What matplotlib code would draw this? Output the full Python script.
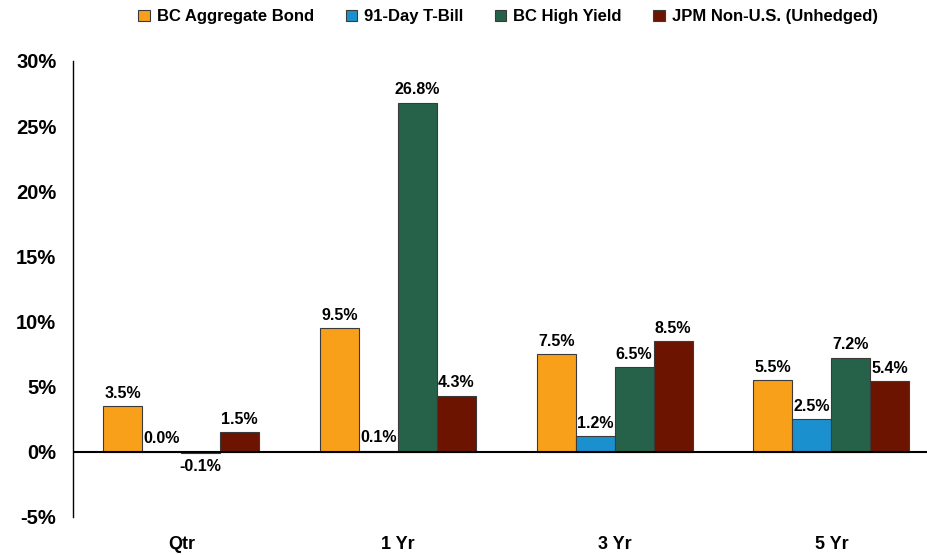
import matplotlib.pyplot as plt
import numpy as np

plt.rcParams['font.family'] = ['Liberation Sans', 'DejaVu Sans']
plt.rcParams['font.weight'] = 'bold'

# Data
periods = ['Qtr', '1 Yr', '3 Yr', '5 Yr']
series = ['BC Aggregate Bond', '91-Day T-Bill', 'BC High Yield', 'JPM Non-U.S. (Unhedged)']
agg_bond = [3.5, 9.5, 7.5, 5.5]
t_bill = [0.0, 0.1, 1.2, 2.5]
high_yield = [-0.1, 26.8, 6.5, 7.2]
jpm_nonus = [1.5, 4.3, 8.5, 5.4]
colors = ['#F8A01A', '#1B90CF', '#266249', '#6C1400']

fig = plt.figure(figsize=(9.27, 5.55), dpi=100)
ax = fig.add_axes([0.0787, 0.0685, 0.935, 0.8216])

x = np.arange(len(periods))
w = 0.18
values = [agg_bond, t_bill, high_yield, jpm_nonus]
for i, (name, vals, c) in enumerate(zip(series, values, colors)):
    bars = ax.bar(x + (i - 1.5) * w, vals, w, color=c, edgecolor='#3a3a3a',
                  linewidth=0.8, label=name, zorder=2)
    ax.bar_label(bars, labels=[f'{v:.1f}%' for v in vals], padding=4,
                 fontsize=11.5, fontweight='bold')

ax.axhline(0, color='black', linewidth=1.5, zorder=3)
ax.set_xlim(-0.5, 3.5)
ax.set_ylim(-5, 30)
ax.set_yticks(range(-5, 31, 5))
ax.set_yticklabels([f'{t}%' for t in range(-5, 31, 5)], fontsize=14.5, fontweight='bold')
ax.set_xticks(x)
ax.set_xticklabels(periods, fontsize=13, fontweight='bold')
ax.tick_params(axis='y', length=0, pad=12)
ax.tick_params(axis='x', length=0, pad=14)
for s in ['top', 'right', 'bottom']:
    ax.spines[s].set_visible(False)
ax.spines['left'].set_linewidth(1.0)

fig.legend(loc='upper center', bbox_to_anchor=(0.548, 1.01), ncol=4, frameon=False,
           handlelength=0.7, handleheight=0.7, handletextpad=0.4, columnspacing=1.9,
           prop={'size': 12, 'weight': 'bold'})

fig.savefig('out.png', dpi=100)
